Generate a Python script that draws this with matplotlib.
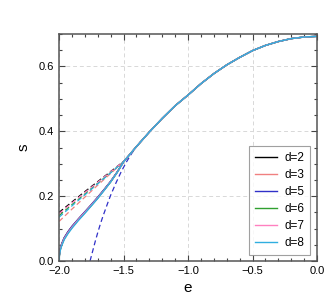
import matplotlib
matplotlib.use("Agg")
import matplotlib.pyplot as plt
from matplotlib.ticker import MultipleLocator

plt.rcParams['font.family'] = ['Liberation Sans', 'DejaVu Sans']

# ---- data ----
d_labels = ["d=2", "d=3", "d=5", "d=6", "d=7", "d=8"]
d_colors = ["#000000", "#f08080", "#3030c8", "#30a030", "#ff80c0", "#30aee0"]

# low-energy part of solid curves (per d)
e_low = [-2.0, -1.998, -1.99, -1.98, -1.96, -1.93, -1.90, -1.85, -1.80, -1.75, -1.70, -1.65, -1.60, -1.55]
s_low_d2 = [0.0, 0.018, 0.038, 0.052, 0.071, 0.090, 0.106, 0.129, 0.151, 0.173, 0.196, 0.220, 0.245, 0.274]
s_low_d3 = [0.0, 0.018, 0.038, 0.052, 0.071, 0.090, 0.106, 0.129, 0.151, 0.173, 0.196, 0.220, 0.245, 0.274]
s_low_d5 = [0.0, 0.019, 0.039, 0.053, 0.072, 0.091, 0.107, 0.130, 0.152, 0.174, 0.197, 0.221, 0.246, 0.274]
s_low_d6 = [0.0, 0.016, 0.035, 0.049, 0.068, 0.087, 0.103, 0.127, 0.149, 0.171, 0.194, 0.219, 0.244, 0.273]
s_low_d7 = [0.0, 0.017, 0.036, 0.050, 0.069, 0.088, 0.104, 0.128, 0.150, 0.172, 0.195, 0.219, 0.245, 0.273]
s_low_d8 = [0.0, 0.015, 0.034, 0.047, 0.066, 0.085, 0.101, 0.125, 0.147, 0.170, 0.193, 0.218, 0.244, 0.273]

# common upper part of the solid curve
e_high = [-1.5, -1.4, -1.3, -1.2, -1.1, -1.0, -0.9, -0.8, -0.7, -0.6, -0.5, -0.4, -0.3, -0.2, -0.1, 0.0]
s_high = [0.306, 0.353, 0.398, 0.440, 0.479, 0.512, 0.547, 0.578, 0.605, 0.628, 0.649, 0.665, 0.677, 0.686, 0.691, 0.693]

# dashed approximations
e_dash = [-2.0, -1.9, -1.8, -1.7, -1.6, -1.5]
s_dash_d2 = [0.150, 0.182, 0.214, 0.245, 0.276, 0.307]
s_dash_d3 = [0.122, 0.160, 0.197, 0.234, 0.270, 0.306]
s_dash_d6 = [0.140, 0.174, 0.207, 0.240, 0.273, 0.306]
s_dash_d7 = [0.146, 0.179, 0.211, 0.243, 0.275, 0.307]
s_dash_d8 = [0.135, 0.170, 0.204, 0.238, 0.272, 0.306]

e_dash_d5 = [-1.76, -1.74, -1.72, -1.70, -1.68, -1.66, -1.64, -1.62, -1.60, -1.56, -1.52, -1.48, -1.44, -1.40, -1.37]
s_dash_d5 = [0.0, 0.030, 0.060, 0.088, 0.114, 0.138, 0.160, 0.182, 0.203, 0.240, 0.274, 0.304, 0.330, 0.353, 0.368]

# ---- figure ----
fig = plt.figure(figsize=(3.32, 3.07), dpi=100)
ax = fig.add_axes([0.178, 0.150, 0.777, 0.739])

solid_low = [s_low_d2, s_low_d3, s_low_d5, s_low_d6, s_low_d7, s_low_d8]
dash_map = {"d=2": (e_dash, s_dash_d2), "d=3": (e_dash, s_dash_d3),
            "d=5": (e_dash_d5, s_dash_d5), "d=6": (e_dash, s_dash_d6),
            "d=7": (e_dash, s_dash_d7), "d=8": (e_dash, s_dash_d8)}

for lab, col, slow in zip(d_labels, d_colors, solid_low):
    ed, sd = dash_map[lab]
    ax.plot(ed, sd, color=col, lw=0.9, ls=(0, (4, 2.5)))

for lab, col, slow in zip(d_labels, d_colors, solid_low):
    ax.plot(e_low + e_high, slow + s_high, color=col, lw=1.0, label=lab)

ax.set_xlim(-2.0, 0.0)
ax.set_ylim(0.0, 0.7)
ax.xaxis.set_major_locator(MultipleLocator(0.5))
ax.xaxis.set_minor_locator(MultipleLocator(0.1))
ax.yaxis.set_major_locator(MultipleLocator(0.2))
ax.yaxis.set_minor_locator(MultipleLocator(0.05))
ax.tick_params(which='both', direction='in', top=True, right=True,
               labelsize=8, colors='#444444', labelcolor='black')
ax.tick_params(which='major', length=4, width=0.8)
ax.tick_params(which='minor', length=2, width=0.8)
for sp in ax.spines.values():
    sp.set_color('#555555')
    sp.set_linewidth(1.1)
ax.grid(True, which='major', color='#d8d8d8', ls=(0, (4, 3)), lw=0.7)
ax.set_axisbelow(True)

ax.set_xlabel('e', fontsize=11, labelpad=4)
ax.set_ylabel('s', fontsize=11, labelpad=6)

leg = ax.legend(loc='lower right', fontsize=8.5, frameon=True, fancybox=False,
                edgecolor='#888888', handlelength=1.9, handletextpad=0.6,
                borderpad=0.5, labelspacing=0.42, borderaxespad=0.0,
                bbox_to_anchor=(0.973, 0.026))
leg.get_frame().set_linewidth(0.8)

fig.savefig('out.png', dpi=100)
